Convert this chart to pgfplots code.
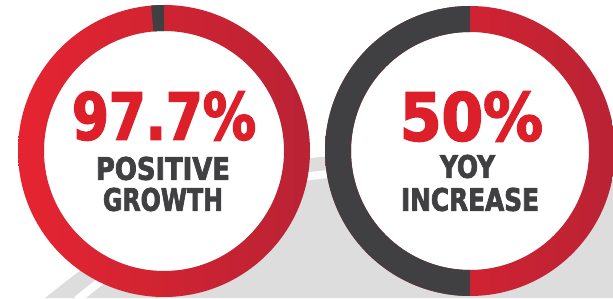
\documentclass[border=0pt]{standalone}
\usepackage{graphicx}
\usepackage{fontspec}
\usepackage{pgfplots}
\usepackage{pgfplotstable}
\pgfplotsset{compat=1.18}
\newfontfamily\cond[RawFeature={embolden=2.6}]{DejaVu Sans Condensed Bold}
\definecolor{redA}{HTML}{E62431}
\definecolor{redB}{HTML}{B92334}
\definecolor{darkg}{HTML}{404042}
\definecolor{txtred}{HTML}{DC1F28}
\definecolor{road}{HTML}{DDDDDD}
% ring data: share of red arc, share of dark arc (percent)
\pgfplotstableread{
ring cx cy R r red dark
1 164 147 146 120 98.6 1.4
2 470 147 145 119 50 50
}\rings
\begin{document}
\begin{tikzpicture}
\begin{axis}[x=1pt,y=1pt,xmin=0,xmax=613,ymin=0,ymax=298,
  hide axis,scale only axis,clip=true]
% background road
\fill[road] (axis cs:45,0) .. controls (axis cs:150,84) and (axis cs:230,130) .. (axis cs:320,141)
  -- (axis cs:613,151) -- (axis cs:613,0) -- cycle;
\draw[white,line width=8pt] (axis cs:77,-2) .. controls (axis cs:175,78) and (axis cs:245,118) .. (axis cs:330,124)
  -- (axis cs:620,134);
% rings
\pgfplotsforeachungrouped \i in {0,1}{%
  \pgfplotstablegetelem{\i}{cx}\of\rings \edef\cx{\pgfplotsretval}%
  \pgfplotstablegetelem{\i}{cy}\of\rings \edef\cy{\pgfplotsretval}%
  \pgfplotstablegetelem{\i}{R}\of\rings \edef\RR{\pgfplotsretval}%
  \pgfplotstablegetelem{\i}{r}\of\rings \edef\rr{\pgfplotsretval}%
  \pgfplotstablegetelem{\i}{dark}\of\rings \edef\dk{\pgfplotsretval}%
  \pgfmathsetmacro\aend{90+3.6*\dk}%
  \pgfmathsetmacro\cyR{\cy+\RR}%
  \pgfmathsetmacro\th{\RR-\rr}%
  \pgfmathsetmacro\ang{\aend+180}%
  \edef\doit{\noexpand\fill[white] (axis cs:\cx,\cy) circle[radius=\rr pt];
   \noexpand\shade[left color=redA,right color=redB,even odd rule]
     (axis cs:\cx,\cy) circle[radius=\RR pt] (axis cs:\cx,\cy) circle[radius=\rr pt];
   \noexpand\fill[darkg] (axis cs:\cx,\cyR) arc[start angle=90,end angle=\aend,radius=\RR pt]
     -- ++(\ang:\th pt) arc[start angle=\aend,end angle=90,radius=\rr pt] -- cycle;}%
  \doit
}
% texts
\node[inner sep=0,txtred] at (axis cs:164,182) {\resizebox{184pt}{48pt}{\cond 97.7\%}};
\node[inner sep=0,darkg] at (axis cs:163,129.5) {\resizebox{134pt}{23pt}{\cond POSITIVE}};
\node[inner sep=0,darkg] at (axis cs:163,98.5) {\resizebox{120pt}{23pt}{\cond GROWTH}};
\node[inner sep=0,txtred] at (axis cs:471.5,181.5) {\resizebox{143pt}{49pt}{\cond 50\%}};
\node[inner sep=0,darkg] at (axis cs:467.5,131.5) {\resizebox{55pt}{23pt}{\cond YOY}};
\node[inner sep=0,darkg] at (axis cs:470,98.5) {\resizebox{138pt}{23pt}{\cond INCREASE}};
\end{axis}
\pgfresetboundingbox
\useasboundingbox (0,0) rectangle (613pt,298pt);
\end{tikzpicture}
\end{document}
